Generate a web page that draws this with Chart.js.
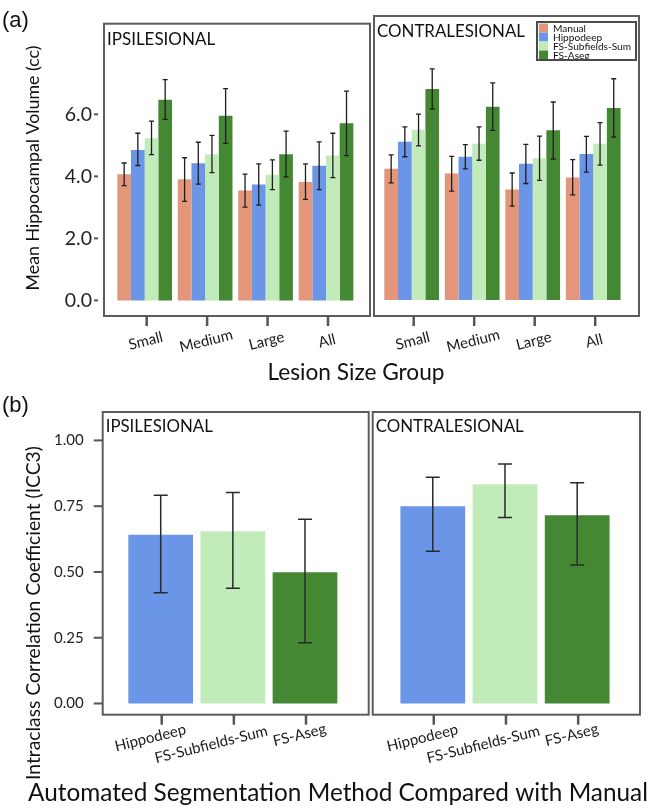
<!DOCTYPE html>
<html><head><meta charset="utf-8">
<script src="https://cdn.jsdelivr.net/npm/chart.js@4.4.1/dist/chart.umd.min.js"></script>
<style>
html,body{margin:0;padding:0;background:#fff;}
#wrap{position:relative;width:652px;height:809px;overflow:hidden;}
canvas{position:absolute;left:0;top:0;}
</style></head><body>
<div id="wrap">
<canvas id="c1" width="652" height="809"></canvas>
<canvas id="c2" width="652" height="809"></canvas>
<canvas id="c3" width="652" height="809"></canvas>
<canvas id="c4" width="652" height="809"></canvas>
<canvas id="ov" width="652" height="809"></canvas>
</div>
<script>
// ---------- data ----------
const sizeGroups = ['Small', 'Medium', 'Large', 'All'];
const methods = ['Manual', 'Hippodeep', 'FS-Subfields-Sum', 'FS-Aseg'];
const volumeTicks = [0, 2, 4, 6];
const iccTicks = [0, 0.25, 0.5, 0.75, 1];

const ipsiManual      = [4.07, 3.91, 3.54, 3.82];
const ipsiHippodeep   = [4.85, 4.42, 3.74, 4.34];
const ipsiSubfields   = [5.23, 4.71, 4.05, 4.67];
const ipsiAseg        = [6.47, 5.95, 4.71, 5.71];
const ipsiManualCI    = [[3.70, 4.43], [3.19, 4.60], [3.01, 4.07], [3.26, 4.40]];
const ipsiHippodeepCI = [[4.35, 5.39], [3.75, 5.10], [3.07, 4.40], [3.57, 5.11]];
const ipsiSubfieldsCI = [[4.70, 5.78], [4.12, 5.32], [3.57, 4.53], [3.96, 5.39]];
const ipsiAsegCI      = [[5.84, 7.12], [5.06, 6.83], [3.98, 5.46], [4.67, 6.75]];

const contraManual      = [4.12, 3.97, 3.47, 3.85];
const contraHippodeep   = [4.97, 4.50, 4.28, 4.59];
const contraSubfields   = [5.35, 4.91, 4.45, 4.91];
const contraAseg        = [6.63, 6.07, 5.33, 6.03];
const contraManualCI    = [[3.68, 4.56], [3.42, 4.51], [2.95, 3.99], [3.30, 4.41]];
const contraHippodeepCI = [[4.50, 5.44], [4.12, 4.88], [3.66, 4.89], [4.02, 5.14]];
const contraSubfieldsCI = [[4.84, 5.84], [4.39, 5.44], [3.76, 5.15], [4.24, 5.57]];
const contraAsegCI      = [[6.00, 7.26], [5.33, 6.82], [4.43, 6.22], [5.12, 6.95]];

const iccMethods = ['Hippodeep', 'FS-Subfields-Sum', 'FS-Aseg'];
const ipsiICC     = [0.641, 0.655, 0.499];
const ipsiICCCI   = [[0.421, 0.792], [0.438, 0.802], [0.231, 0.700]];
const contraICC   = [0.750, 0.833, 0.716];
const contraICCCI = [[0.579, 0.860], [0.707, 0.910], [0.526, 0.839]];

// ---------- style ----------
const COLORS = {'Manual': '#E4967A', 'Hippodeep': '#6B95E6', 'FS-Subfields-Sum': '#C2EBBA', 'FS-Aseg': '#458834'};
const FONT = 'Lato, "Open Sans", sans-serif';
const W = 652, H = 809;

function fitSize(ctx, text, target, family, weight) {
  let s = 20;
  for (let k = 0; k < 3; k++) {
    ctx.font = (weight || '') + ' ' + s + 'px ' + family;
    s = s * target / ctx.measureText(text).width;
  }
  return s;
}

function decoPlugin(p) {
  return {
    id: 'deco',
    afterDraw(chart) {
      const ctx = chart.ctx, a = chart.chartArea;
      const xs = chart.scales.x, ys = chart.scales.y;
      ctx.save();
      // error bars
      p.cis.forEach((ciArr, d) => {
        const meta = chart.getDatasetMeta(d);
        ciArr.forEach((ci, i) => {
          if (!ci) return;
          const el = meta.data[i];
          const x = el.x;
          const y1 = ys.getPixelForValue(ci[0]), y2 = ys.getPixelForValue(ci[1]);
          ctx.strokeStyle = p.errColor; ctx.lineWidth = p.errWidth;
          ctx.beginPath();
          ctx.moveTo(x, y1); ctx.lineTo(x, y2);
          ctx.moveTo(x - p.cap, y1); ctx.lineTo(x + p.cap, y1);
          ctx.moveTo(x - p.cap, y2); ctx.lineTo(x + p.cap, y2);
          ctx.stroke();
        });
      });
      // panel box
      ctx.strokeStyle = '#5c5c5c'; ctx.lineWidth = 2;
      ctx.strokeRect(a.left, a.top, a.right - a.left, a.bottom - a.top);
      // y tick marks
      if (p.showY) {
        ctx.strokeStyle = '#555'; ctx.lineWidth = 2;
        p.yTicks.forEach(v => {
          const y = ys.getPixelForValue(v);
          ctx.beginPath(); ctx.moveTo(a.left - p.yTickOut, y); ctx.lineTo(a.left - p.yTickIn, y); ctx.stroke();
        });
      }
      // x tick marks + rotated labels
      p.cats.forEach((c, i) => {
        const tx = xs.getPixelForValue(i) + p.tickShift;
        ctx.strokeStyle = '#555'; ctx.lineWidth = 2.5;
        ctx.beginPath(); ctx.moveTo(tx, a.bottom); ctx.lineTo(tx, a.bottom + 10); ctx.stroke();
        ctx.font = p.xFont + 'px ' + FONT;
        const L = ctx.measureText(c).width;
        let cx, cy;
        if (p.labelMode === 'top') { cx = tx - 1; cy = a.bottom + 25; }
        else { cx = tx + 8 - 0.265 * L; cy = a.bottom + 12 + 0.154 * L; }
        ctx.save();
        ctx.translate(cx, cy); ctx.rotate(-14 * Math.PI / 180);
        ctx.fillStyle = '#1a1a1a'; ctx.textAlign = 'center'; ctx.textBaseline = 'middle';
        ctx.fillText(c, 0, 0);
        ctx.restore();
      });
      // panel title
      const ps = fitSize(ctx, p.title, p.titleW, FONT);
      ctx.font = ps + 'px ' + FONT; ctx.fillStyle = '#111'; ctx.textAlign = 'left'; ctx.textBaseline = 'alphabetic';
      ctx.fillText(p.title, a.left + 3, a.top + p.titleBase);
      // legend
      if (p.legend) {
        const lx = 537, ly = 22, lw = 99, lh = 38;
        const rh = 9;
        const ls = fitSize(ctx, 'FS-Subfields-Sum', 78, FONT);
        chart.data.datasets.forEach((ds, k) => {
          ctx.fillStyle = ds.backgroundColor;
          ctx.fillRect(lx + 2, ly + 1.5 + k * rh, 9, rh);
          ctx.fillStyle = '#111'; ctx.font = ls + 'px ' + FONT; ctx.textBaseline = 'middle'; ctx.textAlign = 'left';
          ctx.fillText(ds.label, lx + 16, ly + 1.5 + k * rh + rh / 2 + 0.5);
        });
        ctx.strokeStyle = '#4a4a4a'; ctx.lineWidth = 2;
        ctx.strokeRect(lx, ly, lw, lh);
      }
      ctx.restore();
    }
  };
}

function panel(id, p) {
  const yAxisW = p.showY ? p.yAxisW : 0;
  return new Chart(document.getElementById(id), {
    type: 'bar',
    data: {datasets: p.datasets},
    options: {
      responsive: false, animation: false, devicePixelRatio: 1,
      events: [],
      layout: {padding: {left: p.box.l - yAxisW, right: W - p.box.r, top: p.box.t, bottom: H - p.box.b}},
      plugins: {legend: {display: false}, tooltip: {enabled: false}, title: {display: false}},
      datasets: {bar: {categoryPercentage: p.catPct, barPercentage: 1, borderWidth: 0}},
      scales: {
        x: {type: 'linear', display: false, offset: false, bounds: 'data', grace: 0, min: p.xMin, max: p.xMax,
            afterBuildTicks: s => { s.ticks = p.cats.map((c, i) => ({value: i})); },
            grid: {display: false, offset: false}},
        y: {type: 'linear', display: p.showY, min: p.yMin, max: p.yMax,
            afterBuildTicks: s => { s.ticks = p.yTicks.map(v => ({value: v})); },
            afterFit: s => { if (p.showY) s.width = p.yAxisW; },
            grid: {display: false, drawTicks: false}, border: {display: false},
            ticks: {padding: p.yPad, color: '#222', font: {family: FONT, size: p.yFont}, autoSkip: false,
                    callback: v => p.yFmt(v)}}
      }
    },
    plugins: [decoPlugin(p)]
  });
}

function volSets(vals) {
  return methods.map((m, k) => ({label: m, backgroundColor: COLORS[m],
    data: vals[k].map((v, i) => ({x: i, y: v}))}));
}
function iccSet(vals) {
  return [{label: 'ICC3', backgroundColor: iccMethods.map(m => COLORS[m]),
    data: vals.map((v, i) => ({x: i, y: v}))}];
}

const topCommon = {cats: sizeGroups, yTicks: volumeTicks, yMin: -0.503, yMax: 8.922,
  yFmt: v => v.toFixed(1), yAxisW: 60, yPad: 12, yFont: 19.5, yTickOut: 10, yTickIn: 6,
  catPct: 0.905, errColor: '#1e1e1e', errWidth: 1.3, cap: 2.5, labelMode: 'top', tickShift: 2,
  xFont: 15, titleBase: 21};
const botCommon = {cats: iccMethods, yTicks: iccTicks, yMin: -0.0426, yMax: 1.108,
  yFmt: v => v.toFixed(2), yAxisW: 60, yPad: 19, yFont: 15, yTickOut: 9, yTickIn: 0,
  catPct: 0.897, errColor: '#2a2a2a', errWidth: 1.5, cap: 7, labelMode: 'bottom', tickShift: 1,
  xFont: 15, titleBase: 20};

panel('c1', Object.assign({}, topCommon, {
  box: {l: 104, r: 370, t: 16, b: 316}, xMin: -0.673, xMax: 3.728, showY: true,
  datasets: volSets([ipsiManual, ipsiHippodeep, ipsiSubfields, ipsiAseg]),
  cis: [ipsiManualCI, ipsiHippodeepCI, ipsiSubfieldsCI, ipsiAsegCI],
  title: 'IPSILESIONAL', titleW: 108, legend: false}));
panel('c2', Object.assign({}, topCommon, {
  box: {l: 374, r: 639, t: 16, b: 316}, xMin: -0.623, xMax: 3.757, showY: false,
  datasets: volSets([contraManual, contraHippodeep, contraSubfields, contraAseg]),
  cis: [contraManualCI, contraHippodeepCI, contraSubfieldsCI, contraAsegCI],
  title: 'CONTRALESIONAL', titleW: 148, legend: true}));
panel('c3', Object.assign({}, botCommon, {
  box: {l: 102.7, r: 368.7, t: 412, b: 714.7}, xMin: -0.804, xMax: 2.883, showY: true,
  datasets: iccSet(ipsiICC), cis: [ipsiICCCI],
  title: 'IPSILESIONAL', titleW: 107, legend: false}));
panel('c4', Object.assign({}, botCommon, {
  box: {l: 372.7, r: 640, t: 412, b: 714.7}, xMin: -0.832, xMax: 2.870, showY: false,
  datasets: iccSet(contraICC), cis: [contraICCCI],
  title: 'CONTRALESIONAL', titleW: 148, legend: false}));

// ---------- overall titles ----------
(function () {
  const ctx = document.getElementById('ov').getContext('2d');
  ctx.fillStyle = '#111';
  const ARIAL = '"Liberation Sans", Arial, sans-serif';
  ctx.font = '22px ' + ARIAL; ctx.textBaseline = 'alphabetic'; ctx.textAlign = 'left';
  ctx.fillText('(a)', 2, 27);
  ctx.fillText('(b)', 2, 412);

  function rotText(t, x, y, w) {
    const s = fitSize(ctx, t, w, FONT);
    ctx.save(); ctx.translate(x, y); ctx.rotate(-Math.PI / 2);
    ctx.font = s + 'px ' + FONT; ctx.textAlign = 'center'; ctx.textBaseline = 'middle';
    ctx.fillText(t, 0, 0); ctx.restore();
  }
  function hText(t, x, y, w) {
    const s = fitSize(ctx, t, w, FONT);
    ctx.font = s + 'px ' + FONT; ctx.textAlign = 'center'; ctx.textBaseline = 'alphabetic';
    ctx.fillText(t, x, y);
  }
  rotText('Mean Hippocampal Volume (cc)', 33, 168, 245);
  hText('Lesion Size Group', 356, 380, 177);
  rotText('Intraclass Correlation Coefficient (ICC3)', 34, 613, 334);
  hText('Automated Segmentation Method Compared with Manual', 338, 801, 620);
})();
</script>
</body></html>
